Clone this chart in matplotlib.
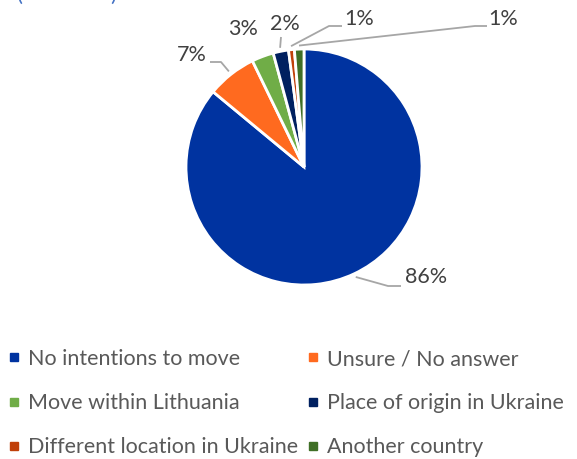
import numpy as np
import matplotlib
matplotlib.use('Agg')
from matplotlib import pyplot as plt
from matplotlib.lines import Line2D

# data
categories = ['No intentions to move', 'Unsure / No answer', 'Move within Lithuania',
              'Place of origin in Ukraine', 'Different location in Ukraine', 'Another country']
shares = [86.0, 6.8, 3.0, 2.1, 0.8, 1.3]
colors = ['#0033a0', '#ff6a1f', '#70ad47', '#002060', '#c0400a', '#3f6f26']

W, H = 577, 459
plt.rcParams['font.family'] = ['Lato', 'DejaVu Sans']

fig = plt.figure(figsize=(W / 100, H / 100), dpi=100)
ax = fig.add_axes([0, 0, 1, 1])

def py(y):
    return H - y

cx, cy, r = 304, 167, 118
wedges, _ = ax.pie(shares, colors=colors, startangle=90, counterclock=False,
                   center=(cx, py(cy)), radius=r, frame=True,
                   wedgeprops=dict(edgecolor='white', linewidth=2))
ax.set_xlim(0, W)
ax.set_ylim(0, H)
ax.set_aspect('equal')
ax.axis('off')

# label positions (px), leader elbow + end (px) or None
label_pos = [(426, 277), (192, 55), (243, 29), (285, 24), (359, 19), (503, 19)]
leaders = [[(388, 286), (401, 286)],
           [(221, 62), (210, 62)],
           None,
           [(281, 37)],
           [(329, 26), (342, 26)],
           [(475, 26), (487, 26)]]
grey = '#a6a6a6'
for w, v, (lx, ly), ld in zip(wedges, shares, label_pos, leaders):
    ax.text(lx, py(ly), '%d%%' % round(v), ha='center', va='center',
            fontsize=15.5, color='#404040')
    if ld is None:
        continue
    mid = np.deg2rad((w.theta1 + w.theta2) / 2)
    sx = cx + r * 1.03 * np.cos(mid)
    sy = py(cy) + r * 1.03 * np.sin(mid)
    xs = [sx] + [p[0] for p in ld]
    ys = [sy] + [py(p[1]) for p in ld]
    ax.plot(xs, ys, color=grey, lw=1.3, solid_capstyle='butt')

# cut-off title remnant
fig.text(20 / W, 1 - 5 / H, '(', color='#4472c4', fontsize=16, va='bottom', ha='center')
fig.text(113 / W, 1 - 5 / H, ')', color='#4472c4', fontsize=16, va='bottom', ha='center')

# legend, row-major order
order = [0, 2, 4, 1, 3, 5]
handles = [Line2D([], [], marker='s', ls='none', markersize=5.5,
                  color=colors[i]) for i in order]
fig.legend(handles, [categories[i] for i in order], ncol=2, frameon=False,
           loc='upper left', bbox_to_anchor=(6.5 / W, 1 - 349 / H),
           fontsize=15.5, labelcolor='#595959', handlelength=0.7,
           handletextpad=0.3, columnspacing=0.33, labelspacing=1.12,
           borderaxespad=0.0, borderpad=0.0)

fig.savefig('out.png', dpi=100)
